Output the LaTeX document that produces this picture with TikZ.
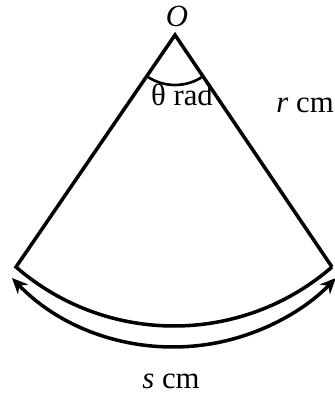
\documentclass[tikz,border=0pt]{standalone}
\usepackage{fontspec}
\setmainfont{Liberation Serif}
\usetikzlibrary{arrows.meta}
\begin{document}
\begin{tikzpicture}[x=0.02cm,y=0.02cm,
  edge/.style={line width=2pt,line join=miter},
  anglearc/.style={line width=1.5pt},
  lengtharrow/.style={line width=2pt,{Stealth[length=9pt,width=8pt]}-{Stealth[length=9pt,width=8pt]}},
  lbl/.style={font=\fontsize{17.5}{20}\selectfont,inner sep=0pt,anchor=base}]
\useasboundingbox (0,0) rectangle (334,394);
\coordinate (O) at (175,359);
\coordinate (A) at (16,127);
\coordinate (B) at (332,127);
\coordinate (L) at (12,116);
% sector
\draw[edge] (B) -- (O) -- (A) arc[start angle=229.04,end angle=310.96,radius=241];
% angle mark
\draw[anglearc] ([shift={(235.6:50)}]O) arc[start angle=235.6,end angle=304.1,radius=50];
% arc length arrow
\draw[lengtharrow] (L) arc[start angle=223.9,end angle=316.1,radius=224.7];
% labels
\node[lbl] (lO) at (177,367) {\itshape O};
\node[lbl] (lth) at (182,288) {θ rad};
\node[lbl] (lr) at (305,281) {\itshape r\/\upshape\ cm};
\node[lbl] (ls) at (171,6) {\itshape s\/\upshape\ cm};
\end{tikzpicture}
\end{document}
